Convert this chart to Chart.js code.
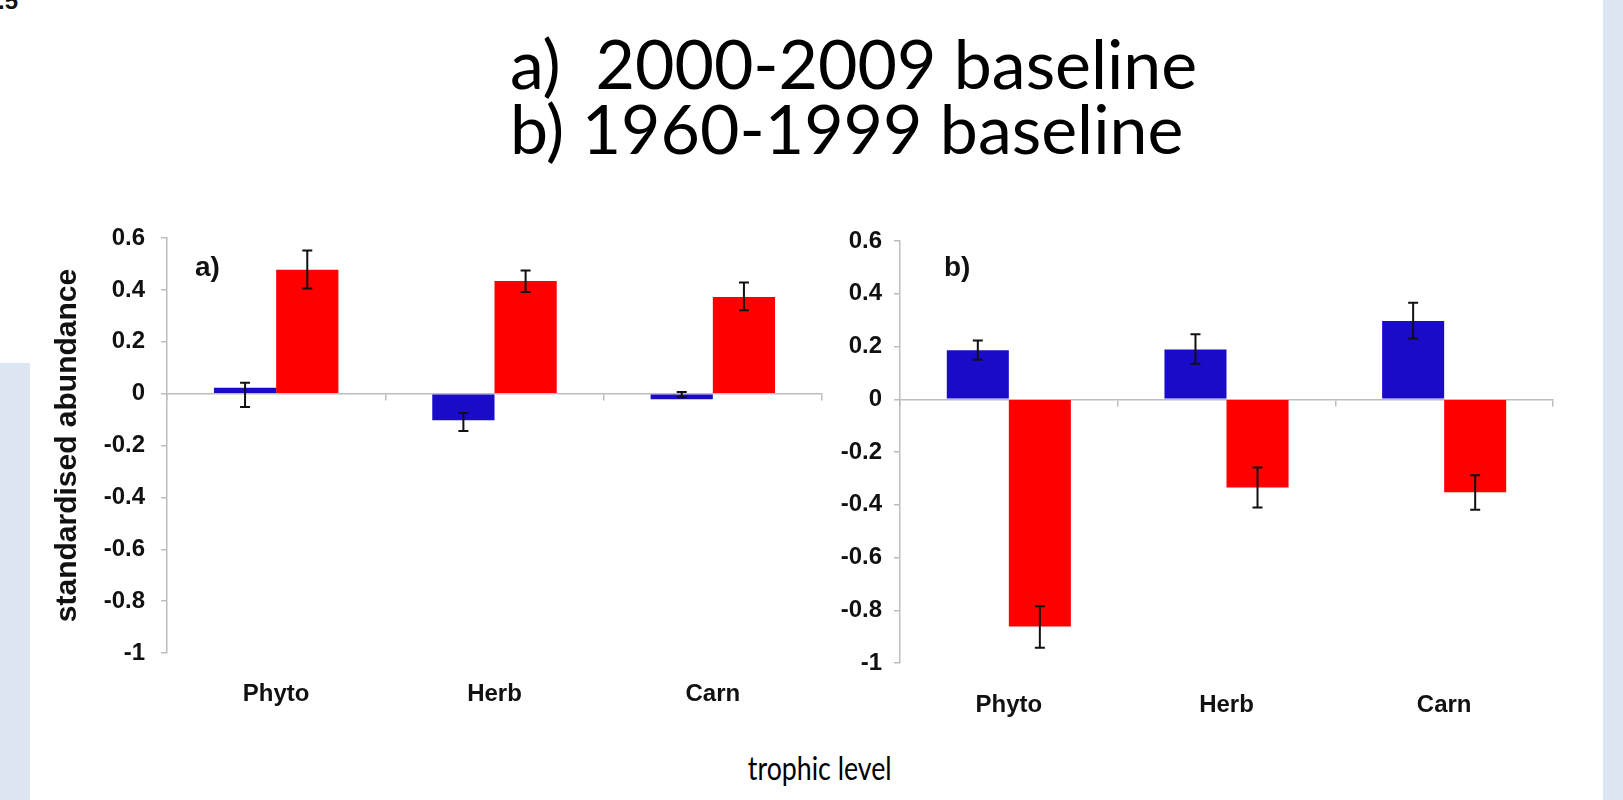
<!DOCTYPE html>
<html>
<head>
<meta charset="utf-8">
<script src="https://cdn.jsdelivr.net/npm/chart.js@4.4.1/dist/chart.umd.min.js"></script>
<style>
  html, body { margin: 0; padding: 0; background: #fff; }
  body { width: 1623px; height: 800px; position: relative; overflow: hidden; }
  .panel { position: absolute; background: #dce6f2; }
  .box { position: absolute; }
  #title { position: absolute; left: 510px; top: 30px; font-family: Lato, "Open Sans", sans-serif;
           font-size: 68px; line-height: 65px; color: #000; white-space: pre; }
  #xlabel { position: absolute; left: 0; width: 1640px; top: 751px; text-align: center;
            font-family: Lato, "Open Sans", sans-serif; font-size: 33px; line-height: 33px; color: #000; }
  #xlabel span { display: inline-block; transform: scaleX(0.81); }
  #corner { position: absolute; left: -2px; top: -11px; font: bold 24px "Liberation Sans", Arial, sans-serif;
            line-height: 24px; color: #111; }
</style>
</head>
<body>
<div id="corner">.5</div>
<div class="panel" style="left:0;top:363px;width:30px;height:437px;"></div>
<div class="panel" style="left:1603px;top:0;width:20px;height:800px;"></div>
<div id="title">a)  2000-2009 baseline
b) 1960-1999 baseline</div>
<div class="box" style="left:50px;top:206px;"><canvas id="chartA" width="790" height="507"></canvas></div>
<div class="box" style="left:830px;top:213px;"><canvas id="chartB" width="740" height="510"></canvas></div>
<div id="xlabel"><span>trophic level</span></div>

<script>
// trophic levels and y tick labels
const categories = ['Phyto', 'Herb', 'Carn'];
const yTicks = [0.6, 0.4, 0.2, 0, -0.2, -0.4, -0.6, -0.8, -1];

// a) 2000-2009 baseline
const aBlue = [0.023, -0.103, -0.022];
const aBlueLow = [-0.052, -0.144, -0.014];
const aBlueHigh = [0.042, -0.075, 0.006];
const aRed = [0.478, 0.434, 0.373];
const aRedLow = [0.405, 0.392, 0.321];
const aRedHigh = [0.552, 0.475, 0.428];

// b) 1960-1999 baseline
const bBlue = [0.186, 0.189, 0.297];
const bBlueLow = [0.150, 0.135, 0.230];
const bBlueHigh = [0.223, 0.246, 0.366];
const bRed = [-0.862, -0.335, -0.353];
const bRedLow = [-0.942, -0.410, -0.419];
const bRedHigh = [-0.785, -0.259, -0.288];

const BLUE = '#1a0bc8';
const RED = '#ff0000';
const AXIS = '#bdbdbd';
const FONT = '"Liberation Sans", Arial, sans-serif';

// draws the error bars on top of the bars
const errorBars = {
    id: 'errorBars',
    afterDatasetsDraw(chart) {
        const ctx = chart.ctx;
        const y = chart.scales.y;
        chart.data.datasets.forEach((ds, i) => {
            chart.getDatasetMeta(i).data.forEach((bar, j) => {
                const top = y.getPixelForValue(ds.errHigh[j]);
                const bot = y.getPixelForValue(ds.errLow[j]);
                ctx.save();
                ctx.strokeStyle = '#111';
                ctx.lineWidth = 2;
                ctx.beginPath();
                ctx.moveTo(bar.x, top);
                ctx.lineTo(bar.x, bot);
                ctx.moveTo(bar.x - 5, top);
                ctx.lineTo(bar.x + 5, top);
                ctx.moveTo(bar.x - 5, bot);
                ctx.lineTo(bar.x + 5, bot);
                ctx.stroke();
                ctx.restore();
            });
        });
    }
};

// the "a)" / "b)" tag in the corner of each panel
const panelTag = {
    id: 'panelTag',
    afterDraw(chart, args, opts) {
        const ctx = chart.ctx;
        const area = chart.chartArea;
        ctx.save();
        ctx.font = 'bold 28px ' + FONT;
        ctx.fillStyle = '#111';
        ctx.textBaseline = 'top';
        ctx.fillText(opts.text, area.left + opts.dx, area.top + opts.dy);
        ctx.restore();
    }
};

function makeChart(id, blue, blueLow, blueHigh, red, redLow, redHigh, cfg) {
    const ctx = document.getElementById(id).getContext('2d');
    return new Chart(ctx, {
        type: 'bar',
        data: {
            labels: categories,
            datasets: [
                { data: blue, errLow: blueLow, errHigh: blueHigh, backgroundColor: BLUE },
                { data: red, errLow: redLow, errHigh: redHigh, backgroundColor: RED }
            ]
        },
        options: {
            responsive: false,
            animation: false,
            devicePixelRatio: 1,
            categoryPercentage: 0.57,
            barPercentage: 1.0,
            layout: { padding: { top: cfg.padTop, right: cfg.padRight, left: 0, bottom: 0 } },
            plugins: {
                legend: { display: false },
                tooltip: { enabled: false },
                panelTag: { text: cfg.tag, dx: cfg.tagX, dy: cfg.tagY }
            },
            scales: {
                x: {
                    type: 'category',
                    position: { y: 0 },
                    offset: true,
                    grid: { display: true, drawOnChartArea: false, drawTicks: true, tickLength: 6,
                            offset: true, color: AXIS, lineWidth: 1.5 },
                    border: { display: true, color: AXIS, width: 1.5 },
                    ticks: { display: false },
                    afterFit: s => { s.height = 0; }
                },
                x2: {
                    type: 'category',
                    labels: categories,
                    position: 'bottom',
                    offset: true,
                    grid: { display: false, drawTicks: false },
                    border: { display: false },
                    ticks: { color: '#111', padding: cfg.catPad, font: { family: FONT, size: 24, weight: 'bold' } },
                    afterFit: s => { s.height = 60; }
                },
                y: {
                    min: -1,
                    max: 0.6,
                    position: 'left',
                    grid: { drawOnChartArea: false, drawTicks: true, tickLength: 6, color: AXIS, lineWidth: 1.5 },
                    border: { display: true, color: AXIS, width: 1.5 },
                    afterBuildTicks: s => { s.ticks = yTicks.map(v => ({ value: v })); },
                    ticks: {
                        color: '#111',
                        padding: cfg.tickPad,
                        font: { family: FONT, size: 24, weight: 'bold' },
                        callback: v => String(v)
                    },
                    title: {
                        display: cfg.yTitle !== '',
                        text: cfg.yTitle,
                        color: '#111',
                        padding: 0,
                        font: { family: FONT, size: 30, weight: 'bold' }
                    },
                    afterFit: s => { s.width = cfg.yWidth; }
                }
            }
        },
        plugins: [errorBars, panelTag]
    });
}

makeChart('chartA', aBlue, aBlueLow, aBlueHigh, aRed, aRedLow, aRedHigh,
    { padTop: 32, padRight: 18, yWidth: 117, tickPad: 16, catPad: 27, yTitle: 'standardised abundance',
      tag: 'a)', tagX: 28, tagY: 16 });
makeChart('chartB', bBlue, bBlueLow, bBlueHigh, bRed, bRedLow, bRedHigh,
    { padTop: 28, padRight: 17, yWidth: 70, tickPad: 12, catPad: 28, yTitle: '',
      tag: 'b)', tagX: 44, tagY: 13 });
</script>
</body>
</html>
